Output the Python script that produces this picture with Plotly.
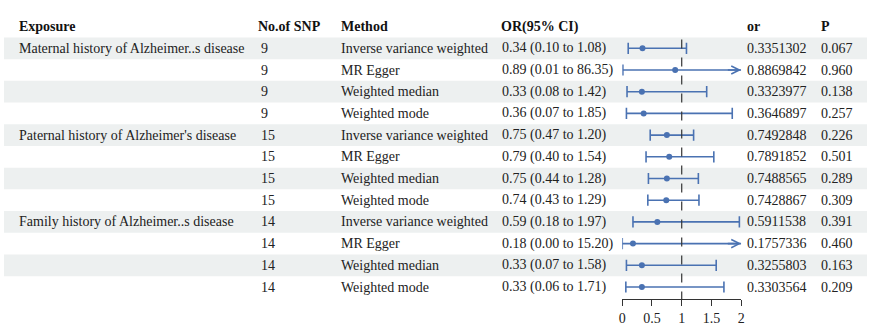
import plotly.graph_objects as go

exposure = ["Maternal history of Alzheimer..s disease", "", "", "",
            "Paternal history of Alzheimer's disease", "", "", "",
            "Family history of Alzheimer..s disease", "", "", ""]
nsnp = [9, 9, 9, 9, 15, 15, 15, 15, 14, 14, 14, 14]
method = ["Inverse variance weighted", "MR Egger", "Weighted median", "Weighted mode"] * 3
or_est = [0.34, 0.89, 0.33, 0.36, 0.75, 0.79, 0.75, 0.74, 0.59, 0.18, 0.33, 0.33]
or_lo = [0.10, 0.01, 0.08, 0.07, 0.47, 0.40, 0.44, 0.43, 0.18, 0.00, 0.07, 0.06]
or_hi = [1.08, 86.35, 1.42, 1.85, 1.20, 1.54, 1.28, 1.29, 1.97, 15.20, 1.58, 1.71]
or_raw = ["0.3351302", "0.8869842", "0.3323977", "0.3646897", "0.7492848", "0.7891852",
          "0.7488565", "0.7428867", "0.5911538", "0.1757336", "0.3255803", "0.3303564"]
pval = ["0.067", "0.960", "0.138", "0.257", "0.226", "0.501", "0.289", "0.309",
        "0.391", "0.460", "0.163", "0.209"]
headers = ["Exposure", "No.of SNP", "Method", "OR(95% CI)", "or", "P"]
x_ticks = [0, 0.5, 1, 1.5, 2]

W, H = 871, 332
FONT = "Liberation Serif"
BLUE = "#4A72B2"
XMIN, XMAX = 0, 2

rows = list(range(1, len(method) + 1))
# pixel y of row r = 26.6 + r*21.7
r_top = -26.6 / 21.7
r_bot = (H - 26.6) / 21.7

fig = go.Figure()

# shading
shapes = []
for r in rows:
    if r % 2 == 1:
        shapes.append(dict(type="rect", xref="paper", yref="y", x0=0, x1=1,
                           y0=r - 0.5, y1=r + 0.5, fillcolor="#edf0f0",
                           line=dict(width=0), layer="below"))
# reference line
shapes.append(dict(type="line", xref="x", yref="y", x0=1, x1=1, y0=0.6,
                   y1=(299 - 26.6) / 21.7, line=dict(color="#333333", width=1.2, dash="dash")))

# CI lines
lx, ly = [], []
cap_x, cap_y = [], []
arr_rows = []
for r, lo, hi in zip(rows, or_lo, or_hi):
    a = max(lo, XMIN)
    b = min(hi, XMAX)
    lx += [a, b, None]
    ly += [r, r, None]
    if lo >= XMIN:
        cap_x.append(lo); cap_y.append(r)
    if hi <= XMAX:
        cap_x.append(hi); cap_y.append(r)
    else:
        arr_rows.append(r)

fig.add_trace(go.Scatter(x=lx, y=ly, mode="lines", line=dict(color=BLUE, width=1.6),
                         hoverinfo="skip", showlegend=False))
fig.add_trace(go.Scatter(x=cap_x, y=cap_y, mode="markers",
                         marker=dict(symbol="line-ns", size=8, line=dict(color=BLUE, width=1.6)),
                         hoverinfo="skip", showlegend=False))
fig.add_trace(go.Scatter(x=or_est, y=rows, mode="markers",
                         marker=dict(symbol="circle", size=6, color=BLUE),
                         showlegend=False))

annotations = []
for r in arr_rows:
    annotations.append(dict(x=XMAX, y=r, xref="x", yref="y", ax=XMAX - 0.25, ay=r,
                            axref="x", ayref="y", showarrow=True, arrowhead=5,
                            arrowsize=1, arrowwidth=1.6, arrowcolor=BLUE, text=""))

col_x = [13, 254, 338, 500, 748, 823]
val_x = [13, 257, 338, 501, 748, 823]
for hx, h in zip(col_x, headers):
    annotations.append(dict(x=hx / W, y=0, xref="paper", yref="y", text="<b>%s</b>" % h,
                            showarrow=False, xanchor="left", yanchor="middle",
                            font=dict(family=FONT, size=14, color="#111111")))
for i, r in enumerate(rows):
    ci = "%.2f (%.2f to %.2f)" % (or_est[i], or_lo[i], or_hi[i])
    vals = [exposure[i], str(nsnp[i]), method[i], ci, or_raw[i], pval[i]]
    for vx, v in zip(val_x, vals):
        if v == "":
            continue
        annotations.append(dict(x=vx / W, y=r, xref="paper", yref="y", text=v,
                                showarrow=False, xanchor="left", yanchor="middle",
                                font=dict(family=FONT, size=14, color="#222222")))

fig.update_layout(
    width=W, height=H, margin=dict(l=0, r=0, t=0, b=0),
    paper_bgcolor="white", plot_bgcolor="rgba(0,0,0,0)",
    shapes=shapes, annotations=annotations,
    xaxis=dict(domain=[624 / W, 744 / W], range=[XMIN, XMAX], tickvals=x_ticks,
               ticktext=[("%g" % t) for t in x_ticks], showgrid=False, zeroline=False,
               showline=True, linecolor="#333333", linewidth=1, ticks="outside",
               ticklen=6, tickcolor="#333333", anchor="free", position=1 - 299 / H,
               tickfont=dict(family=FONT, size=14, color="#222222")),
    yaxis=dict(domain=[0, 1], range=[r_bot, r_top], visible=False, showgrid=False,
               zeroline=False),
)

fig.write_html("out.html")
